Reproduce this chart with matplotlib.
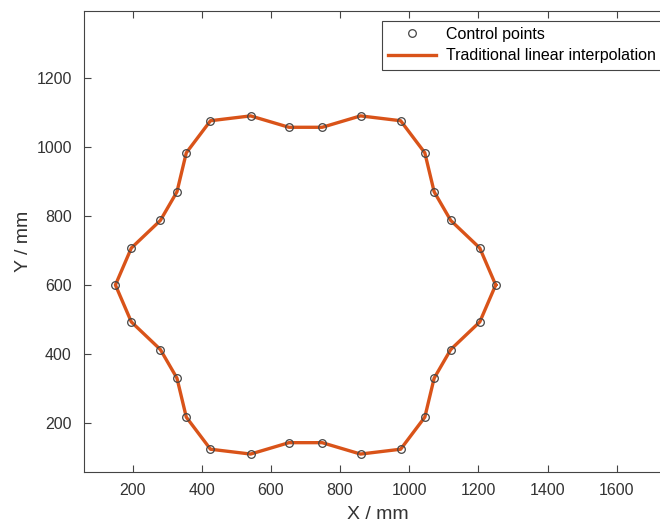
import numpy as np
import matplotlib
matplotlib.use("Agg")
import matplotlib.pyplot as plt
from matplotlib.lines import Line2D

plt.rcParams['font.family'] = ['Liberation Sans', 'DejaVu Sans']

# control points (closed contour)
x_pts = [1250, 1204, 1120, 1072, 1045, 975, 859, 748, 652, 541, 425, 355, 328, 280, 196,
         150, 196, 280, 328, 355, 425, 541, 652, 748, 859, 975, 1045, 1072, 1120, 1204]
y_pts = [600, 707, 787, 870, 983, 1076, 1090, 1057, 1057, 1090, 1076, 983, 870, 787, 707,
         600, 493, 413, 330, 217, 124, 110, 143, 143, 110, 124, 217, 330, 413, 493]

x_ticks = [200, 400, 600, 800, 1000, 1200, 1400, 1600]
y_ticks = [200, 400, 600, 800, 1000, 1200]

W, H = 660, 527
fig = plt.figure(figsize=(W / 100, H / 100), dpi=100)
ax = fig.add_axes([84.3 / W, 1 - 472 / H, (672 - 84.3) / W, (472 - 11) / H])

orange = '#D95319'
txt = '#333333'
xs = x_pts + x_pts[:1]
ys = y_pts + y_pts[:1]
ax.plot(xs, ys, color=orange, lw=2.4, zorder=2)
ax.plot(x_pts, y_pts, 'o', ms=5.5, mfc='none', mec='#454545', mew=0.9, zorder=3)

ax.set_xlim(60, 1760)
ax.set_ylim(58, 1394)
ax.set_xticks(x_ticks)
ax.set_yticks(y_ticks)
ax.tick_params(direction='in', length=5, width=0.8, colors='#444444', labelcolor=txt,
               labelsize=11.5, top=True, right=True, pad=8)
ax.tick_params(axis='y', pad=9)
for s in ax.spines.values():
    s.set_color('#444444')
    s.set_linewidth(0.8)

ax.set_xlabel('X / mm', fontsize=14, color=txt, labelpad=6)
ax.set_ylabel('Y / mm', fontsize=14, color=txt, labelpad=3)

handles = [Line2D([], [], marker='o', ls='none', ms=5.5, mfc='none', mec='#454545', mew=0.9),
           Line2D([], [], color=orange, lw=2.4)]
leg = fig.legend(handles, ['Control points', 'Traditional linear interpolation'],
                 loc='upper left', bbox_to_anchor=(381.7 / W, 1 - 20.7 / H),
                 fontsize=11.5, frameon=True, fancybox=False, framealpha=1,
                 edgecolor='#444444', handlelength=3.0, handletextpad=0.6,
                 borderpad=0.4, labelspacing=0.4, borderaxespad=0)
leg.get_frame().set_linewidth(0.8)
for t in leg.get_texts():
    t.set_color('black')

fig.savefig('out.png', dpi=100)
